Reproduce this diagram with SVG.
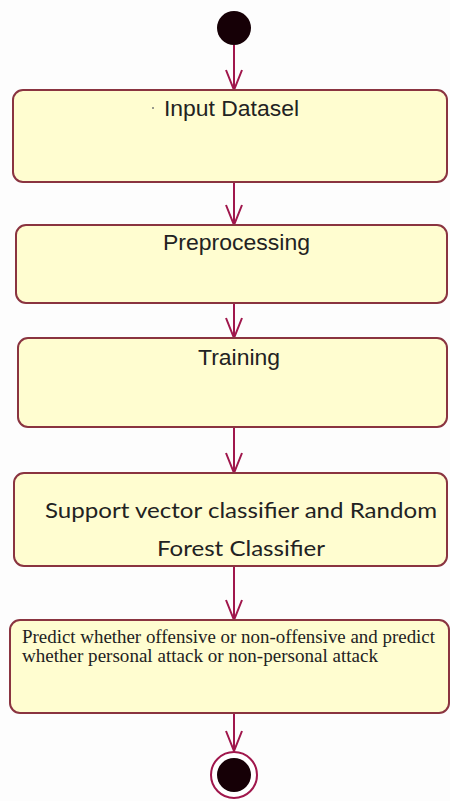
<svg xmlns="http://www.w3.org/2000/svg" width="450" height="801" viewBox="0 0 450 801">
  <style>
    .box { fill: #fffdd0; stroke: #8a3440; stroke-width: 2; }
    .conn { stroke: #a0174c; stroke-width: 2; fill: none; }
    .sans { font-family: "Liberation Sans", Arial, sans-serif; font-size: 22px; fill: #222; }
    .cal { font-family: Lato, "Liberation Sans", sans-serif; font-size: 22px; fill: #222; }
    .serif { font-family: "Liberation Serif", "Times New Roman", serif; font-size: 18px; fill: #222; }
  </style>
  <defs>
    <marker id="arr" viewBox="0 0 22 18" refX="21" refY="9" markerWidth="22" markerHeight="18" markerUnits="userSpaceOnUse" orient="auto">
      <path d="M1,1 L21,9 L1,17" fill="none" stroke="#a0174c" stroke-width="2"/>
    </marker>
  </defs>
  <rect width="450" height="801" fill="#fdfdfd"/>

  <g id="connectors">
    <line class="conn" x1="234" y1="45" x2="234" y2="90" marker-end="url(#arr)"/>
    <line class="conn" x1="234" y1="182" x2="234" y2="225" marker-end="url(#arr)"/>
    <line class="conn" x1="234" y1="303" x2="234" y2="338" marker-end="url(#arr)"/>
    <line class="conn" x1="234" y1="427" x2="234" y2="473" marker-end="url(#arr)"/>
    <line class="conn" x1="234" y1="566" x2="234" y2="620" marker-end="url(#arr)"/>
    <line class="conn" x1="234" y1="713" x2="234" y2="751" marker-end="url(#arr)"/>
  </g>

  <g id="start">
    <circle cx="234" cy="28" r="17" fill="#160006"/>
  </g>

  <g id="input-dataset">
    <rect class="box" x="13" y="90" width="434" height="92" rx="10"/>
    <circle cx="153" cy="108" r="1" fill="#777"/>
    <text class="sans" x="164" y="116" textLength="135" lengthAdjust="spacingAndGlyphs">Input Datasel</text>
  </g>

  <g id="preprocessing">
    <rect class="box" x="16" y="225" width="431" height="78" rx="10"/>
    <text class="sans" x="163" y="250" textLength="147" lengthAdjust="spacingAndGlyphs">Preprocessing</text>
  </g>

  <g id="training">
    <rect class="box" x="18" y="338" width="429" height="89" rx="10"/>
    <text class="sans" x="198" y="365" textLength="82" lengthAdjust="spacingAndGlyphs">Training</text>
  </g>

  <g id="classifier">
    <rect class="box" x="14" y="473" width="433" height="93" rx="10"/>
    <text class="cal" x="45" y="518" textLength="392" lengthAdjust="spacingAndGlyphs">Support vector classifier and Random</text>
    <text class="cal" x="157" y="556" textLength="168" lengthAdjust="spacingAndGlyphs">Forest Classifier</text>
  </g>

  <g id="predict">
    <rect class="box" x="10" y="620" width="439" height="93" rx="10"/>
    <text class="serif" x="22" y="643" textLength="413" lengthAdjust="spacingAndGlyphs">Predict whether offensive or non-offensive and predict</text>
    <text class="serif" x="22" y="662" textLength="356" lengthAdjust="spacingAndGlyphs">whether personal attack or non-personal attack</text>
  </g>

  <g id="end">
    <circle cx="234" cy="775" r="23" fill="#fff" stroke="#a0174c" stroke-width="2"/>
    <circle cx="234" cy="775" r="17" fill="#160006"/>
  </g>
</svg>
